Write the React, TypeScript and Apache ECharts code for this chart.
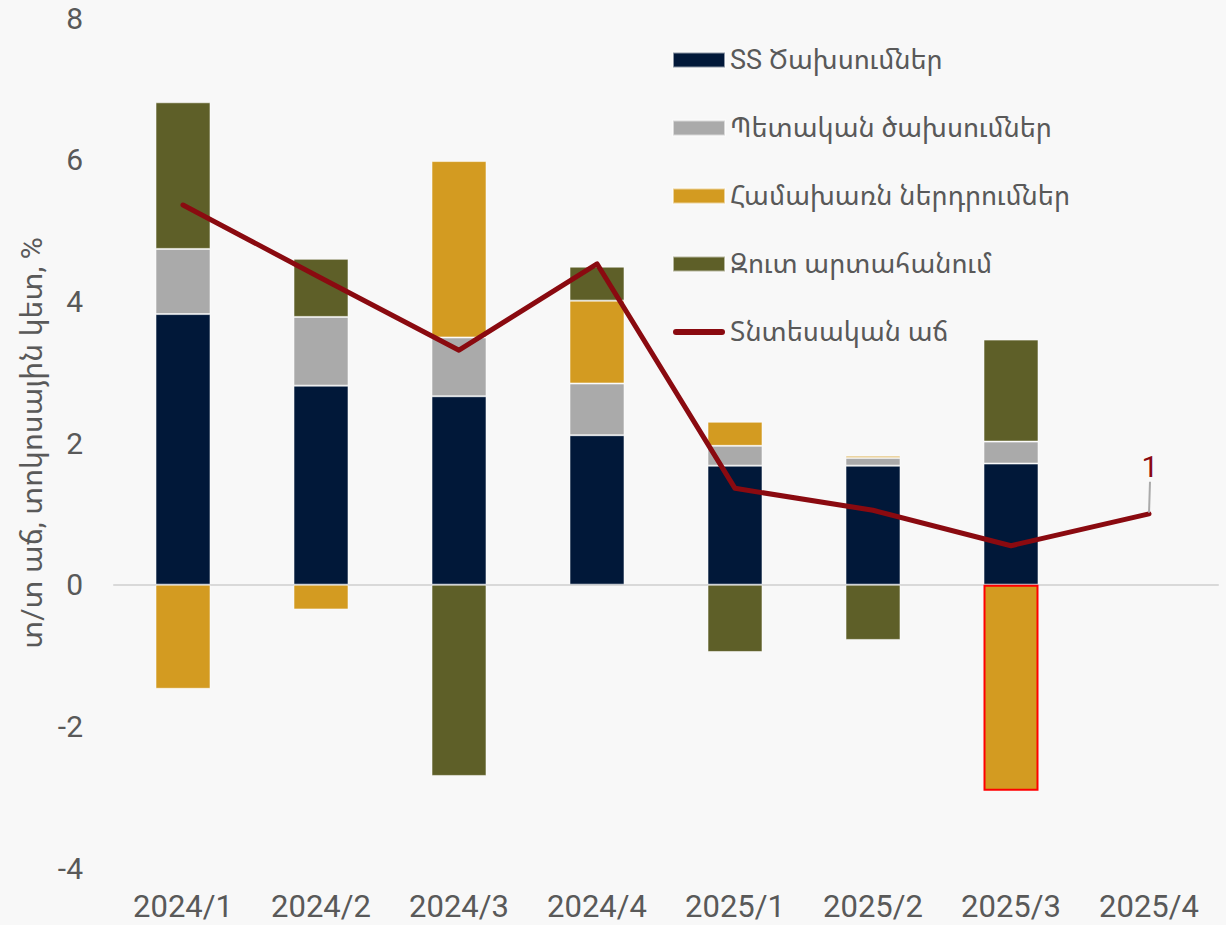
import React, { useEffect, useRef } from "react";
import * as echarts from "echarts";

const categories = ["2024/1", "2024/2", "2024/3", "2024/4", "2025/1", "2025/2", "2025/3", "2025/4"];
const privateConsumption = [3.82, 2.81, 2.66, 2.11, 1.68, 1.68, 1.71, null];
const governmentSpending = [0.92, 0.97, 0.83, 0.73, 0.28, 0.11, 0.31, null];
const grossInvestment = [-1.47, -0.35, 2.49, 1.17, 0.34, 0.03, -2.91, null];
const netExports = [2.07, 0.82, -2.7, 0.48, -0.95, -0.78, 1.44, null];
const economicGrowth = [5.36, 4.33, 3.31, 4.53, 1.36, 1.05, 0.55, 1.0];

const seriesNames = [
  "SS Ծախսումներ",
  "Պետական ծախսումներ",
  "Համախառն ներդրումներ",
  "Զուտ արտահանում",
  "Տնտեսական աճ",
];
const yAxisName = "տ/տ աճ, տոկոսային կետ, %";

const FONT = "Roboto, 'Noto Sans Armenian', 'DejaVu Sans', sans-serif";
const TXT = "#595959";
const RED = "#8a0a10";

export default function App() {
  const ref = useRef<HTMLDivElement>(null);
  useEffect(() => {
    document.body.style.margin = "0";
    const chart = echarts.init(ref.current!, null, { renderer: "svg" });
    const barBorder = { borderColor: "rgba(255,255,255,0.55)", borderWidth: 1 };
    const mkBar = (name: string, data: (number | null)[], color: string, special?: number) => ({
      name,
      type: "bar",
      stack: "total",
      barWidth: 55,
      data: data.map((v, i) =>
        i === special
          ? { value: v, itemStyle: { borderColor: "#ff0000", borderWidth: 2 } }
          : v
      ),
      itemStyle: { color, ...barBorder },
    });
    chart.setOption({
      animation: false,
      backgroundColor: "#f8f8f8",
      textStyle: { fontFamily: FONT },
      grid: { left: 114, right: 8, top: 18, bottom: 57, containLabel: false },
      legend: {
        orient: "vertical",
        left: 667,
        top: 40,
        itemWidth: 52,
        itemHeight: 15,
        itemGap: 38,
        symbolKeepAspect: true,
        textStyle: { fontSize: 27, color: TXT, fontFamily: FONT, lineHeight: 30 },
        data: [
          { name: seriesNames[0], icon: "rect" },
          { name: seriesNames[1], icon: "rect" },
          { name: seriesNames[2], icon: "rect" },
          { name: seriesNames[3], icon: "rect" },
          {
            name: seriesNames[4],
            icon: "path://M3,0L49,0A3,3,0,0,1,49,6L3,6A3,3,0,0,1,3,0Z",
            itemStyle: { color: RED },
          },
        ],
      },
      xAxis: {
        type: "category",
        data: categories,
        axisTick: { show: false },
        axisLine: { onZero: true, lineStyle: { color: "#d9d9d9", width: 2 } },
        axisLabel: { fontSize: 31, color: TXT, margin: 23, fontFamily: FONT },
      },
      yAxis: {
        type: "value",
        min: -4,
        max: 8,
        interval: 2,
        splitLine: { show: false },
        axisLine: { show: false },
        axisTick: { show: false },
        axisLabel: { fontSize: 30, color: TXT, margin: 31, fontFamily: FONT },
        name: yAxisName,
        nameLocation: "middle",
        nameGap: 66,
        nameTextStyle: { fontSize: 30, color: TXT, fontFamily: FONT },
      },
      series: [
        mkBar(seriesNames[0], privateConsumption, "#011839"),
        mkBar(seriesNames[1], governmentSpending, "#aaaaaa"),
        mkBar(seriesNames[2], grossInvestment, "#d39b21", 6),
        mkBar(seriesNames[3], netExports, "#5e5f28"),
        {
          name: seriesNames[4],
          type: "line",
          data: economicGrowth.map((v, i) =>
            i === economicGrowth.length - 1
              ? {
                  value: v,
                  symbol: "circle",
                  symbolSize: 2,
                  label: {
                    show: true,
                    position: "top",
                    distance: 5,
                    fontSize: 30,
                    color: RED,
                    fontFamily: FONT,
                  },
                  labelLine: { show: true, lineStyle: { color: "#aaaaaa", width: 2 } },
                }
              : v
          ),
          symbol: "none",
          lineStyle: { color: RED, width: 5, cap: "round", join: "round" },
          itemStyle: { color: RED },
          labelLayout: { dy: -26, dx: 1 },
          labelLine: { show: true, lineStyle: { color: "#aaaaaa", width: 2 } },
          z: 5,
        },
      ],
    });
    return () => chart.dispose();
  }, []);
  return <div ref={ref} style={{ width: 1226, height: 925 }} />;
}
